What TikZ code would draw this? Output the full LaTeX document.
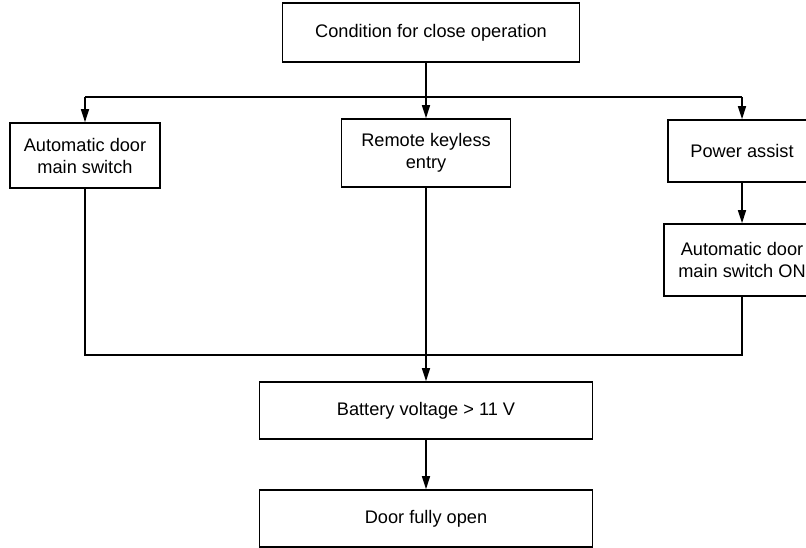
\documentclass[tikz,border=0pt]{standalone}
\usepackage{fontspec}
\setmainfont{Liberation Sans}
\usepackage{tikz}
\usetikzlibrary{positioning, arrows.meta}
\tikzset{
  condbox/.style={
    draw, line width=1.6pt, rectangle,
    inner sep=0pt, align=center,
    font=\fontsize{18.2}{22}\selectfont
  },
  flow/.style={draw, line width=1.6pt, -{Triangle[length=13pt, width=8pt]}},
  wire/.style={draw, line width=1.6pt},
}

\begin{document}
\begin{tikzpicture}[x=1pt, y=-1pt]
  \useasboundingbox (0,0) rectangle (806,548);

  \node[condbox, minimum width=297pt, minimum height=59pt]
                         (cond)  at (431,32.5)  {Condition for close operation};
  \node[condbox, minimum width=150pt, minimum height=65pt]
                         (mainsw) at (85,155.5) {Automatic door\\main switch};
  \node[condbox, minimum width=169pt, minimum height=68pt]
                         (rke)   at (426,153)   {Remote keyless\\entry};
  \node[condbox, minimum width=148pt, minimum height=62pt]
                         (assist) at (742,151)  {Power assist};
  \node[condbox, minimum width=156pt, minimum height=72pt]
                         (swon)  at (742,260)   {Automatic door\\main switch ON};
  \node[condbox, minimum width=333pt, minimum height=57pt]
                         (batt)  at (426,410.5) {Battery voltage > 11 V};
  \node[condbox, minimum width=333pt, minimum height=57pt]
                         (open)  at (426,518.5) {Door fully open};

  \coordinate (split) at (426,97);
  \coordinate (merge) at (426,355);

  % branch out
  \draw[flow] (rke.north |- cond.south) -- (rke.north);
  \draw[wire] (mainsw.north |- split) -- (assist.north |- split);
  \draw[flow] (mainsw.north |- split) -- (mainsw.north);
  \draw[flow] (assist.north |- split) -- (assist.north);
  \draw[flow] (assist.south) -- (swon.north);

  % back together
  \draw[wire] (mainsw.south) |- (swon.south |- merge) -- (swon.south);
  \draw[flow] (rke.south) -- (batt.north);
  \draw[flow] (batt.south) -- (open.north);
\end{tikzpicture}
\end{document}
